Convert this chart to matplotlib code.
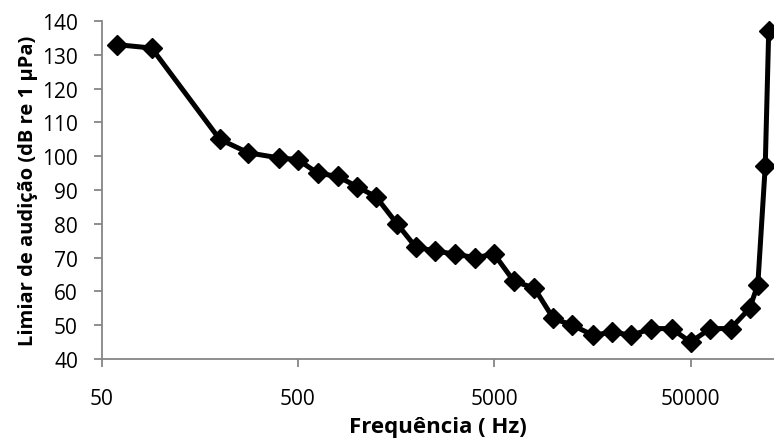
import matplotlib.pyplot as plt
from matplotlib.ticker import FixedLocator, NullLocator

plt.rcParams['font.family'] = ['Open Sans', 'DejaVu Sans']

# frequencias (Hz) e limiares (dB re 1 uPa)
freq = [60, 90, 200, 280, 400, 500, 630, 800, 1000, 1250, 1600, 2000, 2500,
        3150, 4000, 5000, 6300, 8000, 10000, 12500, 16000, 20000, 25000,
        31500, 40000, 50000, 63000, 80000, 100000, 110000, 120000, 125000]
limiar = [133, 132, 105, 101, 99.5, 99, 95, 94, 91, 88, 80, 73, 72,
          71, 70, 71, 63, 61, 52, 50, 47, 48, 47,
          49, 49, 45, 49, 49, 55, 62, 97, 137]

xticks = [50, 500, 5000, 50000]
yticks = list(range(40, 141, 10))

fig = plt.figure(figsize=(7.74, 4.39), dpi=100)
ax = fig.add_axes([101.5 / 774, 79 / 439, 672.5 / 774, 338 / 439])

ax.plot(freq, limiar, color='black', lw=3.6, marker='D', ms=10,
        markerfacecolor='black', markeredgecolor='black', clip_on=False,
        zorder=3)

ax.set_xscale('log')
ax.set_xlim(50, 133000)
ax.set_ylim(40, 140)
ax.xaxis.set_major_locator(FixedLocator(xticks))
ax.xaxis.set_minor_locator(NullLocator())
ax.set_xticklabels([str(t) for t in xticks])
ax.set_yticks(yticks)

for s in ['top', 'right']:
    ax.spines[s].set_visible(False)
for s in ['left', 'bottom']:
    ax.spines[s].set_color('#868686')
    ax.spines[s].set_linewidth(1.3)

ax.tick_params(axis='both', colors='#868686', labelcolor='black',
               length=6, width=1.3, labelsize=15, direction='out')
ax.tick_params(axis='y', pad=11)
ax.tick_params(axis='x', pad=15)

ax.set_xlabel('Frequência ( Hz)', fontsize=16, fontweight='bold', labelpad=5)
ax.set_ylabel('Limiar de audição (dB re 1 µPa)', fontsize=14.5,
              fontweight='bold', labelpad=3)

fig.savefig('out.png', dpi=100)
